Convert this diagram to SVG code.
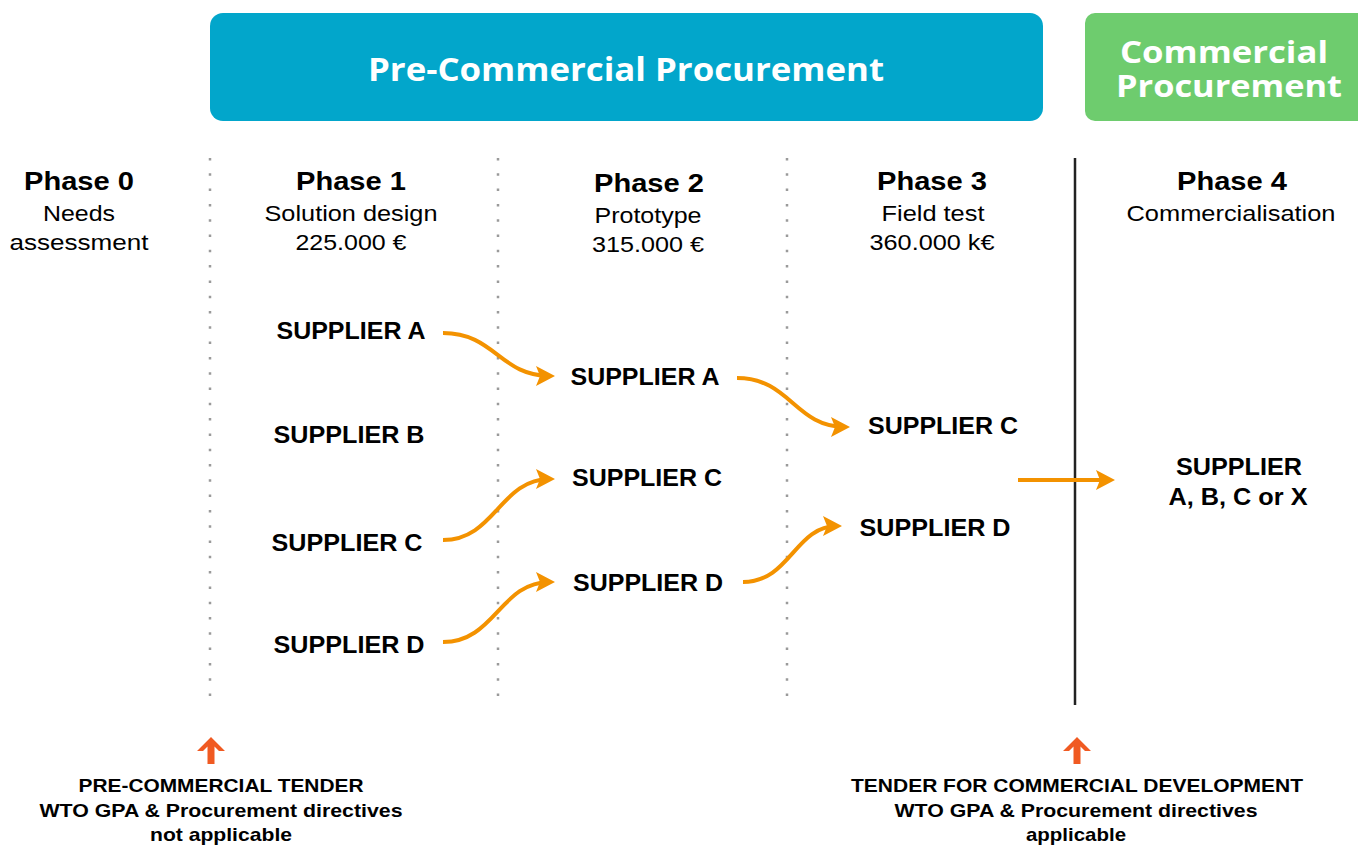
<svg xmlns="http://www.w3.org/2000/svg" width="1358" height="846" viewBox="0 0 1358 846">
<defs>
<style>
.hdr{font-family:"Open Sans","Liberation Sans",sans-serif;font-weight:bold;fill:#fff;text-anchor:middle}
.ph{font-family:"Liberation Sans",Arial,sans-serif;font-weight:bold;font-size:26px;fill:#000;text-anchor:middle}
.sub{font-family:"Liberation Sans",Arial,sans-serif;font-size:22.5px;fill:#000;text-anchor:middle}
.sup{font-family:"Liberation Sans",Arial,sans-serif;font-weight:bold;font-size:23px;fill:#000;text-anchor:middle}
.bot{font-family:"Liberation Sans",Arial,sans-serif;font-weight:bold;font-size:19px;fill:#000;text-anchor:middle}
.dot{stroke:#9a9a9a;stroke-width:2.5;stroke-dasharray:2.5 12.8}
.arr{fill:none;stroke:#f39200;stroke-width:4;marker-end:url(#ah)}
</style>
<marker id="ah" markerUnits="userSpaceOnUse" markerWidth="40" markerHeight="40" refX="0" refY="0" orient="auto" overflow="visible">
<path d="M-14,-10 L5,0 L-14,10 L-10,0 Z" fill="#f39200"/>
</marker>
<g id="up">
<path d="M0,-15 L14,-1 L8,-1 L3.5,-5.5 L3.5,12 L-3.5,12 L-3.5,-5.5 L-8,-1 L-14,-1 Z" fill="#f05a22"/>
</g>
</defs>
<rect width="1358" height="846" fill="#fff"/>

<g id="pcp">
<rect x="210" y="13" width="833" height="108" rx="13" fill="#02a6cb"/>
<text class="hdr" x="626" y="81" font-size="33" textLength="516" lengthAdjust="spacingAndGlyphs">Pre-Commercial Procurement</text>
</g>
<g id="cp">
<rect x="1085" y="13" width="290" height="108" rx="10" fill="#6ecc6e"/>
<text class="hdr" x="1224" y="63" font-size="30" textLength="208" lengthAdjust="spacingAndGlyphs">Commercial</text>
<text class="hdr" x="1229" y="97" font-size="30" textLength="226" lengthAdjust="spacingAndGlyphs">Procurement</text>
</g>

<g id="dividers">
<line class="dot" x1="210" y1="158" x2="210" y2="705"/>
<line class="dot" x1="498" y1="158" x2="498" y2="705"/>
<line class="dot" x1="787" y1="158" x2="787" y2="705"/>
<line x1="1075" y1="158" x2="1075" y2="705" stroke="#222" stroke-width="2.5"/>
</g>

<g id="phase0">
<text class="ph" x="79" y="190" textLength="110" lengthAdjust="spacingAndGlyphs">Phase 0</text>
<text class="sub" x="79" y="221" textLength="72" lengthAdjust="spacingAndGlyphs">Needs</text>
<text class="sub" x="79" y="250" textLength="139" lengthAdjust="spacingAndGlyphs">assessment</text>
</g>
<g id="phase1">
<text class="ph" x="351" y="190" textLength="110" lengthAdjust="spacingAndGlyphs">Phase 1</text>
<text class="sub" x="351" y="221" textLength="173" lengthAdjust="spacingAndGlyphs">Solution design</text>
<text class="sub" x="351" y="250" textLength="111" lengthAdjust="spacingAndGlyphs">225.000 €</text>
</g>
<g id="phase2">
<text class="ph" x="649" y="192" textLength="110" lengthAdjust="spacingAndGlyphs">Phase 2</text>
<text class="sub" x="648" y="223" textLength="107" lengthAdjust="spacingAndGlyphs">Prototype</text>
<text class="sub" x="648" y="252" textLength="112" lengthAdjust="spacingAndGlyphs">315.000 €</text>
</g>
<g id="phase3">
<text class="ph" x="932" y="190" textLength="110" lengthAdjust="spacingAndGlyphs">Phase 3</text>
<text class="sub" x="933" y="221" textLength="103" lengthAdjust="spacingAndGlyphs">Field test</text>
<text class="sub" x="932" y="250" textLength="125" lengthAdjust="spacingAndGlyphs">360.000 k€</text>
</g>
<g id="phase4">
<text class="ph" x="1232" y="190" textLength="110" lengthAdjust="spacingAndGlyphs">Phase 4</text>
<text class="sub" x="1231" y="221" textLength="209" lengthAdjust="spacingAndGlyphs">Commercialisation</text>
</g>

<g id="p1-supplier-a"><text class="sup" x="351" y="339" textLength="149" lengthAdjust="spacingAndGlyphs">SUPPLIER A</text></g>
<g id="p1-supplier-b"><text class="sup" x="349" y="443" textLength="151" lengthAdjust="spacingAndGlyphs">SUPPLIER B</text></g>
<g id="p1-supplier-c"><text class="sup" x="347" y="551" textLength="151" lengthAdjust="spacingAndGlyphs">SUPPLIER C</text></g>
<g id="p1-supplier-d"><text class="sup" x="349" y="653" textLength="151" lengthAdjust="spacingAndGlyphs">SUPPLIER D</text></g>
<g id="p2-supplier-a"><text class="sup" x="645" y="385" textLength="149" lengthAdjust="spacingAndGlyphs">SUPPLIER A</text></g>
<g id="p2-supplier-c"><text class="sup" x="647" y="486" textLength="150" lengthAdjust="spacingAndGlyphs">SUPPLIER C</text></g>
<g id="p2-supplier-d"><text class="sup" x="648" y="591" textLength="150" lengthAdjust="spacingAndGlyphs">SUPPLIER D</text></g>
<g id="p3-supplier-c"><text class="sup" x="943" y="434" textLength="150" lengthAdjust="spacingAndGlyphs">SUPPLIER C</text></g>
<g id="p3-supplier-d"><text class="sup" x="935" y="536" textLength="151" lengthAdjust="spacingAndGlyphs">SUPPLIER D</text></g>
<g id="p4-supplier">
<text class="sup" x="1239" y="475" textLength="126" lengthAdjust="spacingAndGlyphs">SUPPLIER</text>
<text class="sup" x="1238" y="505" textLength="139" lengthAdjust="spacingAndGlyphs">A, B, C or X</text>
</g>

<g id="connectors">
<path class="arr" d="M443,333 C495,333 500,376 550,376"/>
<path class="arr" d="M737,378 C790,378 795,427 845,427"/>
<path class="arr" d="M443,540 C495,540 500,479 550,479"/>
<path class="arr" d="M443,642 C495,642 500,582 550,582"/>
<path class="arr" d="M743,582 C790,582 795,526 837,526"/>
<path class="arr" d="M1018,480 L1110,480"/>
</g>

<g id="tender-pcp">
<use href="#up" x="211" y="752"/>
<text class="bot" x="221" y="792" textLength="285" lengthAdjust="spacingAndGlyphs">PRE-COMMERCIAL  TENDER</text>
<text class="bot" x="221" y="817" textLength="363" lengthAdjust="spacingAndGlyphs">WTO GPA &amp; Procurement directives</text>
<text class="bot" x="221" y="841" textLength="142" lengthAdjust="spacingAndGlyphs">not applicable</text>
</g>
<g id="tender-cp">
<use href="#up" x="1077" y="752"/>
<text class="bot" x="1077" y="792" textLength="452" lengthAdjust="spacingAndGlyphs">TENDER FOR COMMERCIAL  DEVELOPMENT</text>
<text class="bot" x="1076" y="817" textLength="363" lengthAdjust="spacingAndGlyphs">WTO GPA &amp; Procurement directives</text>
<text class="bot" x="1076" y="841" textLength="100" lengthAdjust="spacingAndGlyphs">applicable</text>
</g>
</svg>
